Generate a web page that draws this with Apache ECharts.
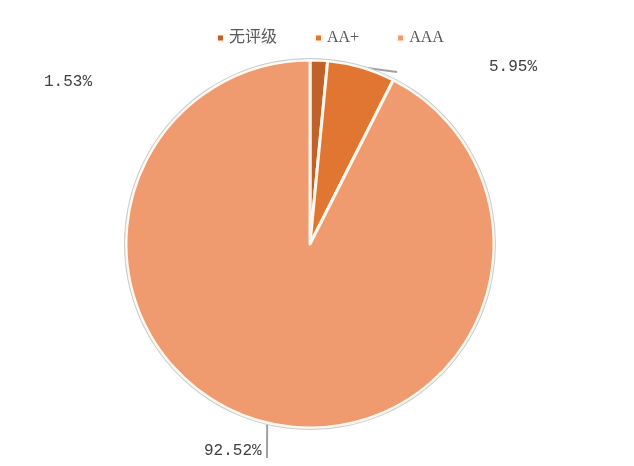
<!DOCTYPE html>
<html>
<head>
<meta charset="utf-8">
<script src="https://cdn.jsdelivr.net/npm/echarts@6/dist/echarts.min.js"></script>
<style>
  html, body { margin: 0; padding: 0; background: #fff; }
  #pie { width: 634px; height: 466px; }
</style>
</head>
<body>
<div id="pie"></div>
<script>
var categories = ['无评级', 'AA+', 'AAA'];
var values = [1.53, 5.95, 92.52];
var colors = ['#bf6128', '#e07632', '#ef9a6f'];

// where Excel had put the data labels (left x, middle y) and where the leader line ends
var labelSpots = [[44, 82], [489, 67], [204, 451]];
var lineEnds = [null, [397, 72], [267, 458]];

var dom = document.getElementById('pie');
var myChart = echarts.init(dom);

var option = {
    color: colors,
    textStyle: { fontFamily: '"Liberation Serif", "Noto Sans CJK SC", serif' },
    legend: {
        top: 25,
        left: 211,
        itemWidth: 7,
        itemHeight: 7,
        itemGap: 37,
        icon: 'rect',
        textStyle: { fontSize: 16, color: '#595959' },
        data: categories
    },
    series: [
        {
            type: 'pie',
            center: [310, 244],
            radius: 184,
            startAngle: 90,
            clockwise: true,
            animation: false,
            itemStyle: { borderColor: '#fff8ee', borderWidth: 3 },
            label: {
                show: true,
                formatter: function (p) { return p.value.toFixed(2) + '%'; },
                fontSize: 16,
                fontFamily: '"Liberation Mono", "DejaVu Sans Mono", monospace',
                color: '#404040'
            },
            labelLine: { show: true, lineStyle: { color: '#a0a0a0', width: 2 } },
            labelLayout: function (params) {
                var i = params.dataIndex;
                var out = {
                    x: labelSpots[i][0],
                    y: labelSpots[i][1],
                    align: 'left',
                    verticalAlign: 'middle'
                };
                if (lineEnds[i] && params.labelLinePoints) {
                    out.labelLinePoints = [params.labelLinePoints[0], lineEnds[i]];
                } else {
                    out.labelLinePoints = [[0, 0], [0, 0]];
                }
                return out;
            },
            data: categories.map(function (c, i) { return { name: c, value: values[i] }; })
        },
        {
            // thin grey rim around the pie
            type: 'pie',
            center: [310, 244],
            radius: [185, 186],
            silent: true,
            animation: false,
            label: { show: false },
            labelLine: { show: false },
            itemStyle: { color: '#c8ccd2' },
            data: [{ name: 'rim', value: 1 }],
            legendHoverLink: false
        }
    ]
};

if (option && typeof option === 'object') {
    myChart.setOption(option, false);
}
</script>
</body>
</html>
